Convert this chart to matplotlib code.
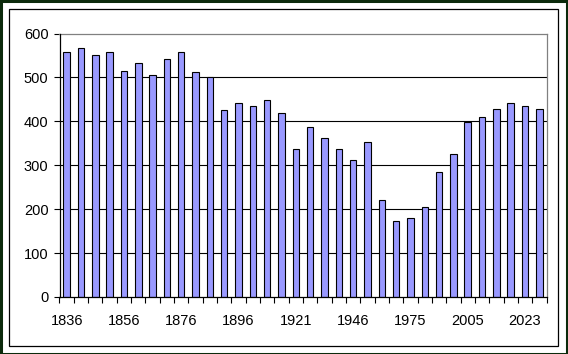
import matplotlib
matplotlib.use("Agg")
import matplotlib.pyplot as plt
from matplotlib.patches import Rectangle
from matplotlib.ticker import FixedLocator, NullFormatter

plt.rcParams['font.family'] = ['Liberation Sans', 'DejaVu Sans']

values = [559, 566, 550, 557, 514, 533, 505, 541, 559, 512, 502,
          425, 441, 434, 448, 418, 336, 388, 361, 338, 311, 354,
          222, 172, 181, 206, 284, 325, 398, 411, 429, 441, 434, 429]
label_positions = [0, 4, 8, 12, 16, 20, 24, 28, 32]
label_texts = ["1836", "1856", "1876", "1896", "1921", "1946", "1975", "2005", "2023"]
yticks = [0, 100, 200, 300, 400, 500, 600]

W, H = 568, 354
fig = plt.figure(figsize=(W / 100, H / 100), dpi=100)
fig.patch.set_facecolor('white')

# outer dark green border and inner black frame
fig.patches.append(Rectangle((0.5 / W, 0.5 / H), (W - 1.5) / W, (H - 1.5) / H, transform=fig.transFigure,
                             fill=False, edgecolor='#0b2a0b', linewidth=2.2))
fig.patches.append(Rectangle((8.5 / W, (H - 345.5) / H), (558 - 8.5) / W, (345.5 - 8.5) / H,
                             transform=fig.transFigure, fill=False, edgecolor='black', linewidth=0.9))

left, right, top, bottom = 59.5, 546.5, 33.5, 297.0
ax = fig.add_axes([left / W, (H - bottom) / H, (right - left) / W, (bottom - top) / H])
ax.set_facecolor('white')

x = list(range(len(values)))
ax.bar(x, values, width=0.45, color='#9999FF', edgecolor='black', linewidth=0.8, zorder=3)

ax.set_xlim(-0.5, len(values) - 0.5)
ax.set_ylim(0, 600)
ax.set_yticks(yticks)
ax.set_yticklabels([str(v) for v in yticks])
for yv in yticks[1:-1]:
    ax.axhline(yv, color='black', linewidth=0.8, zorder=1)

ax.set_xticks(label_positions)
ax.set_xticklabels(label_texts)
ax.xaxis.set_minor_locator(FixedLocator([i - 0.5 for i in range(len(values) + 1)]))
ax.xaxis.set_minor_formatter(NullFormatter())
ax.tick_params(axis='x', which='major', length=0, pad=12, labelsize=10.5)
ax.tick_params(axis='x', which='minor', length=4, width=0.8, direction='out', color='black')
ax.tick_params(axis='y', length=4, width=0.8, direction='out', pad=4, labelsize=10.5)

for s in ['left', 'bottom']:
    ax.spines[s].set_color('black')
    ax.spines[s].set_linewidth(0.9)
    ax.spines[s].set_zorder(4)
for s in ['top', 'right']:
    ax.spines[s].set_color('#808080')
    ax.spines[s].set_linewidth(0.9)

fig.savefig('out.png', dpi=100)
